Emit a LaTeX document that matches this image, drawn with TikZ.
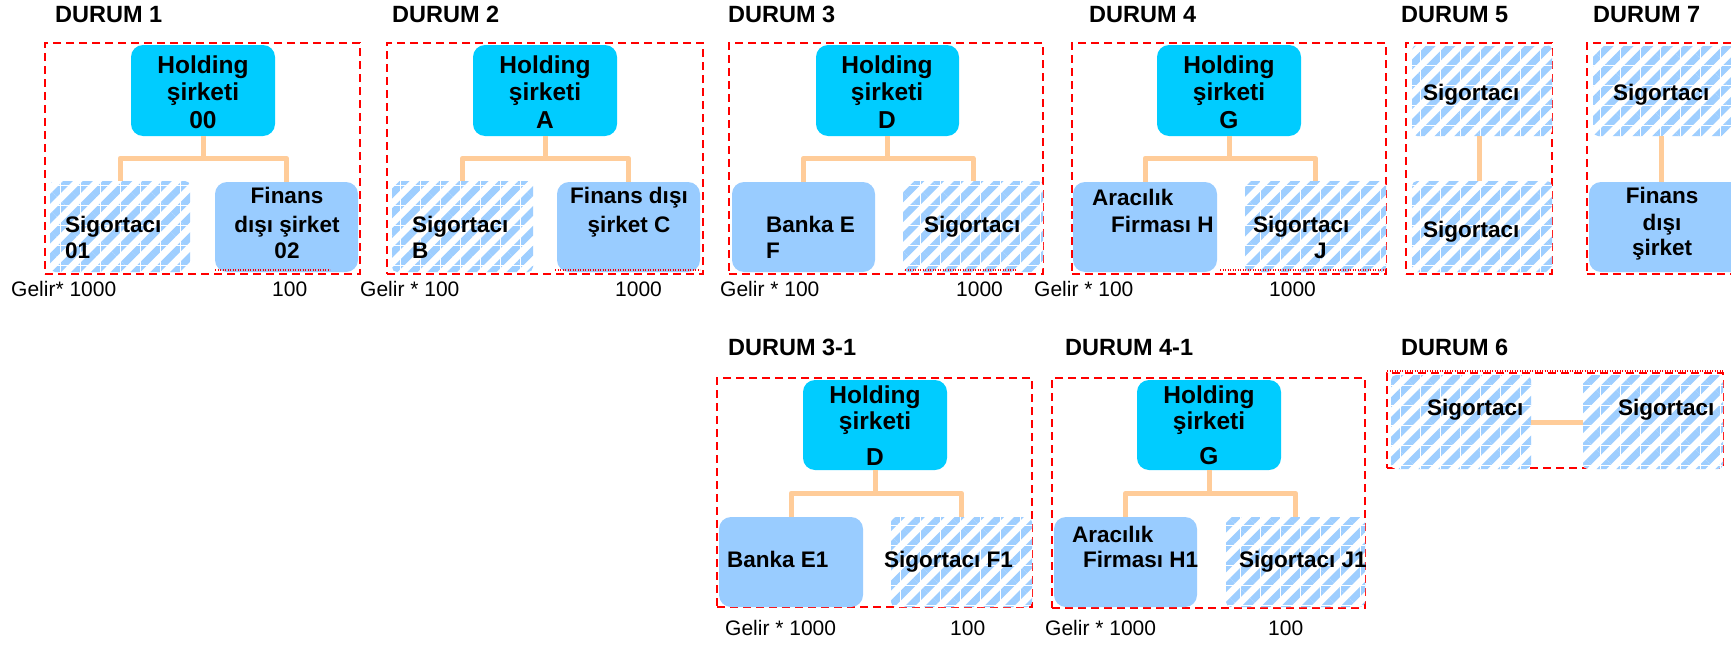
\documentclass[tikz,border=0pt]{standalone}
\usepackage{fontspec}
\setmainfont{Liberation Sans}
\usetikzlibrary{patterns.meta}
\definecolor{holdc}{HTML}{00CCFF}
\definecolor{lightc}{HTML}{99CCFF}
\definecolor{hatchc}{HTML}{9ECEFF}
\definecolor{connc}{HTML}{FFCC99}
\definecolor{redc}{HTML}{FF0000}
\newcommand\mybox[6]{\node[#2, minimum width={#5-#3}, minimum height={#6-#4}] (#1) at ({(#3+#5)/2},{(#4+#6)/2}) {};}
\newcommand\mytl[5]{\node[#2] (#1) at (#3,#4) {#5};}
\tikzset{
  holdbox/.style={rectangle, rounded corners=12pt, fill=holdc, draw=none, inner sep=0pt},
  solidbox/.style={rectangle, rounded corners=12pt, fill=lightc, draw=none, inner sep=0pt},
  hatchbox/.style={rectangle, rounded corners=5pt, fill=white, draw=none, inner sep=0pt,
    postaction={pattern={Lines[angle=45,distance=14pt,line width=7pt]}, pattern color=hatchc},
    postaction={pattern={Lines[angle=0,distance=20pt,line width=0.5pt]}, pattern color=white},
    postaction={pattern={Lines[angle=90,distance=20pt,line width=0.5pt]}, pattern color=white}},
  frame/.style={rectangle, draw=redc, line width=2pt, dash pattern=on 8pt off 5pt, fill=none, inner sep=0pt},
  conn/.style={draw=connc, line width=5pt, line join=round},
  dots/.style={draw=redc, line width=1.5pt, dash pattern=on 1.2pt off 1.3pt},
  ttl/.style={font=\fontsize{23.5}{27}\selectfont\bfseries, inner sep=0pt, anchor=base west},
  ht/.style={font=\fontsize{24.5}{28}\selectfont\bfseries, inner sep=0pt, anchor=base},
  bt/.style={font=\fontsize{22.5}{27}\selectfont\bfseries, inner sep=0pt, anchor=base west},
  btc/.style={font=\fontsize{22.5}{27}\selectfont\bfseries, inner sep=0pt, anchor=base},
  gt/.style={font=\fontsize{21}{25}\selectfont, inner sep=0pt, anchor=base west},
}
\begin{document}
\begin{tikzpicture}[x=1pt,y=-1pt]
\useasboundingbox (0,0) rectangle (1731,645);
\clip (0,0) rectangle (1731,645);
\fill[white] (0,0) rectangle (1731,645);

% ---------- frames ----------
\mybox{f1}{frame}{45}{43}{360}{274}
\mybox{f2}{frame}{387}{43}{703}{274}
\mybox{f3}{frame}{729}{43}{1043}{274}
\mybox{f4}{frame}{1072}{43}{1386}{274}
\mybox{f5}{frame}{1406}{43}{1552}{274}
\mybox{f7}{frame}{1587}{43}{1745}{274}
\mybox{f31}{frame}{717}{378}{1032}{607}
\mybox{f41}{frame}{1052}{378}{1365}{608}
\mybox{f6}{frame}{1387}{373}{1723}{468}

% ---------- titles ----------
\mytl{d1}{ttl}{55}{23}{DURUM 1}
\mytl{d2}{ttl}{392}{23}{DURUM 2}
\mytl{d3}{ttl}{728}{23}{DURUM 3}
\mytl{d4}{ttl}{1089}{23}{DURUM 4}
\mytl{d5}{ttl}{1401}{23}{DURUM 5}
\mytl{d7}{ttl}{1593}{23}{DURUM 7}
\mytl{d31}{ttl}{728}{355}{DURUM 3-1}
\mytl{d41}{ttl}{1065}{355}{DURUM 4-1}
\mytl{d6}{ttl}{1401}{355}{DURUM 6}

% ---------- DURUM 1 ----------
\mybox{h1}{holdbox}{131}{45}{275}{136}
\mybox{a1}{hatchbox}{50}{181}{190}{272}
\mybox{b1}{solidbox}{215}{182}{358}{272}
\draw[conn] (h1.south) -- ++(0,22) -| (a1.north);
\draw[conn] (h1.south) -- ++(0,22) -| (b1.north);
\mytl{h1a}{ht}{203}{73}{Holding}
\mytl{h1b}{ht}{203}{100}{şirketi}
\mytl{h1c}{ht}{203}{128}{00}
\mytl{a1a}{bt}{65}{232}{Sigortacı}
\mytl{a1b}{bt}{65}{258}{01}
\mytl{b1a}{btc}{287}{203}{Finans}
\mytl{b1b}{btc}{287}{232}{dışı şirket}
\mytl{b1c}{btc}{287}{258}{02}
\draw[dots] (215,270) -- (330,270);
\mytl{g1a}{gt}{11}{296}{Gelir* 1000}
\mytl{g1b}{gt}{272}{296}{100}

% ---------- DURUM 2 ----------
\mybox{h2}{holdbox}{473}{45}{617}{136}
\mybox{a2}{hatchbox}{392}{181}{533}{272}
\mybox{b2}{solidbox}{557}{182}{700}{272}
\draw[conn] (h2.south) -- ++(0,22) -| (a2.north);
\draw[conn] (h2.south) -- ++(0,22) -| (b2.north);
\mytl{h2a}{ht}{545}{73}{Holding}
\mytl{h2b}{ht}{545}{100}{şirketi}
\mytl{h2c}{ht}{545}{128}{A}
\mytl{a2a}{bt}{412}{232}{Sigortacı}
\mytl{a2b}{bt}{412}{258}{B}
\mytl{b2a}{btc}{629}{203}{Finans dışı}
\mytl{b2b}{btc}{629}{232}{şirket C}
\draw[dots] (555,270) -- (700,270);
\mytl{g2a}{gt}{360}{296}{Gelir * 100}
\mytl{g2b}{gt}{615}{296}{1000}

% ---------- DURUM 3 ----------
\mybox{h3}{holdbox}{816}{45}{959}{136}
\mybox{a3}{solidbox}{732}{182}{875}{272}
\mybox{b3}{hatchbox}{903}{181}{1043}{272}
\draw[conn] (h3.south) -- ++(0,22) -| (a3.north);
\draw[conn] (h3.south) -- ++(0,22) -| (b3.north);
\mytl{h3a}{ht}{887}{73}{Holding}
\mytl{h3b}{ht}{887}{100}{şirketi}
\mytl{h3c}{ht}{887}{128}{D}
\mytl{a3a}{bt}{766}{232}{Banka E}
\mytl{a3b}{bt}{766}{258}{F}
\mytl{b3a}{bt}{924}{232}{Sigortacı}
\draw[dots] (905,270) -- (1017,270);
\mytl{g3a}{gt}{720}{296}{Gelir * 100}
\mytl{g3b}{gt}{956}{296}{1000}

% ---------- DURUM 4 ----------
\mybox{h4}{holdbox}{1157}{45}{1301}{136}
\mybox{a4}{solidbox}{1073}{182}{1217}{272}
\mybox{b4}{hatchbox}{1245}{181}{1386}{272}
\draw[conn] (h4.south) -- ++(0,22) -| (a4.north);
\draw[conn] (h4.south) -- ++(0,22) -| (b4.north);
\mytl{h4a}{ht}{1229}{73}{Holding}
\mytl{h4b}{ht}{1229}{100}{şirketi}
\mytl{h4c}{ht}{1229}{128}{G}
\mytl{a4a}{bt}{1092}{205}{Aracılık}
\mytl{a4b}{bt}{1111}{232}{Firması H}
\mytl{b4a}{bt}{1253}{232}{Sigortacı}
\mytl{b4b}{bt}{1314}{258}{J}
\draw[dots] (1220,270) -- (1385,270);
\mytl{g4a}{gt}{1034}{296}{Gelir * 100}
\mytl{g4b}{gt}{1269}{296}{1000}

% ---------- DURUM 5 ----------
\mybox{a5}{hatchbox}{1412}{45}{1552}{136}
\mybox{b5}{hatchbox}{1412}{181}{1552}{272}
\draw[conn] ([xshift=-3pt]a5.south) -- ([xshift=-3pt]b5.north);
\mytl{a5a}{bt}{1423}{100}{Sigortacı}
\mytl{b5a}{bt}{1423}{237}{Sigortacı}

% ---------- DURUM 7 ----------
\mybox{a7}{hatchbox}{1593}{45}{1745}{136}
\mybox{b7}{solidbox}{1589}{182}{1745}{272}
\coordinate (c7a) at (1661,136);
\coordinate (c7b) at (1661,182);
\draw[conn] (c7a) -- (c7b);
\mytl{a7a}{bt}{1613}{100}{Sigortacı}
\mytl{b7a}{btc}{1662}{203}{Finans}
\mytl{b7b}{btc}{1662}{230}{dışı}
\mytl{b7c}{btc}{1662}{255}{şirket}

% ---------- DURUM 3-1 ----------
\mybox{h31}{holdbox}{803}{380}{947}{470}
\mybox{a31}{solidbox}{719}{517}{863}{607}
\mybox{b31}{hatchbox}{891}{517}{1032}{607}
\draw[conn] (h31.south) -- ++(0,23) -| (a31.north);
\draw[conn] (h31.south) -- ++(0,23) -| (b31.north);
\mytl{h31a}{ht}{875}{403}{Holding}
\mytl{h31b}{ht}{875}{429}{şirketi}
\mytl{h31c}{ht}{875}{465}{D}
\mytl{a31a}{bt}{727}{567}{Banka E1}
\mytl{b31a}{bt}{884}{567}{Sigortacı F1}
\mytl{g31a}{gt}{725}{635}{Gelir * 1000}
\mytl{g31b}{gt}{950}{635}{100}

% ---------- DURUM 4-1 ----------
\mybox{h41}{holdbox}{1137}{380}{1281}{470}
\mybox{a41}{solidbox}{1054}{517}{1197}{607}
\mybox{b41}{hatchbox}{1226}{517}{1365}{607}
\draw[conn] (h41.south) -- ++(0,23) -| (a41.north);
\draw[conn] (h41.south) -- ++(0,23) -| (b41.north);
\mytl{h41a}{ht}{1209}{403}{Holding}
\mytl{h41b}{ht}{1209}{429}{şirketi}
\mytl{h41c}{ht}{1209}{464}{G}
\mytl{a41a}{bt}{1072}{542}{Aracılık}
\mytl{a41b}{bt}{1083}{567}{Firması H1}
\mytl{b41a}{bt}{1239}{567}{Sigortacı J1}
\mytl{g41a}{gt}{1045}{635}{Gelir * 1000}
\mytl{g41b}{gt}{1268}{635}{100}

% ---------- DURUM 6 ----------
\mybox{a6}{hatchbox}{1391}{375}{1531}{469}
\mybox{b6}{hatchbox}{1583}{375}{1723}{469}
\draw[conn] (a6.east) -- (b6.west);
\mytl{a6a}{bt}{1427}{415}{Sigortacı}
\mytl{b6a}{bt}{1618}{415}{Sigortacı}
\draw[dots] (1387,371) -- (1723,371);
\end{tikzpicture}
\end{document}
